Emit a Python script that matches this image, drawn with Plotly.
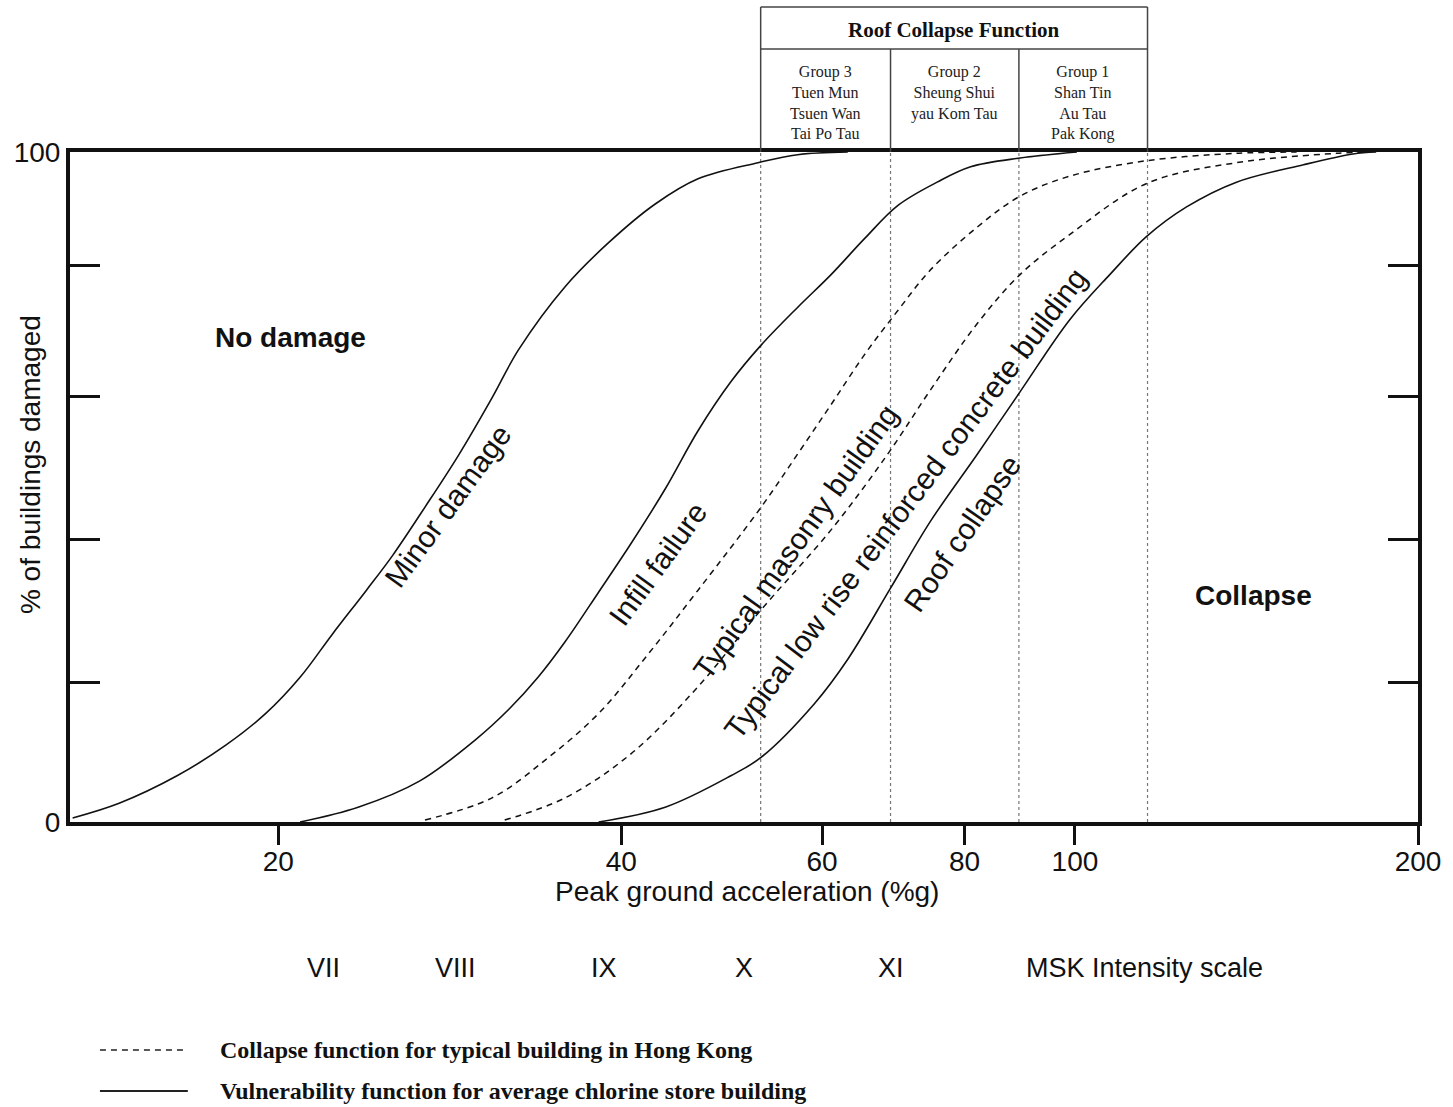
import numpy as np
import plotly.graph_objects as go

# ---------------- data ----------------
# Peak ground acceleration (%g) and % of buildings damaged
minor_pga = [13.2, 14.5, 16.3, 18.0, 19.5, 20.9, 22.3, 23.9, 25.2, 26.9, 28.8, 30.8, 32.5,
             35.7, 39.0, 42.8, 46.7, 52.7, 57.1, 63.2]
minor_pct = [0.6, 2.8, 6.9, 11.5, 16.2, 21.6, 28.0, 34.6, 39.8, 47.0, 54.8, 63.3, 70.5,
             79.9, 86.5, 92.2, 96.0, 98.4, 99.6, 100]

infill_pga = [20.9, 23.5, 26.6, 29.8, 31.9, 33.8, 35.7, 38.2, 40.8, 43.7, 46.7, 49.9, 53.0,
              57.1, 61.1, 65.4, 69.9, 75.7, 81.0, 89.5, 100.4]
infill_pct = [0, 2.2, 6.1, 12.3, 16.9, 21.6, 26.9, 34.3, 41.6, 49.7, 58.4, 65.7, 71.1,
              76.8, 81.7, 87.1, 92.0, 95.5, 97.8, 99.1, 100]

masonry_pga = [26.9, 30.8, 34.5, 38.2, 42.2, 46.7, 53.0, 57.1, 61.1, 65.4, 69.9, 74.6,
               82.1, 89.5, 99.0, 115.6, 138.6, 156.5]
masonry_pct = [0.3, 3.6, 9.6, 16.2, 25.0, 34.6, 46.9, 54.9, 62.3, 69.8, 76.3, 82.3,
               88.8, 93.4, 96.4, 98.7, 99.8, 100]

rc_pga = [31.6, 35.7, 40.8, 46.7, 53.0, 61.1, 68.5, 74.7, 82.1, 89.5, 99.0, 115.6,
          138.6, 169.6, 181.2]
rc_pct = [0.3, 3.6, 10.2, 20.2, 31.6, 43.6, 54.9, 64.5, 74.4, 81.7, 87.7, 95.3,
          98.4, 99.8, 100]

roof_pga = [38.2, 43.7, 49.9, 53.0, 59.1, 63.2, 68.9, 74.7, 82.1, 89.5, 99.0, 107.3,
            115.6, 125.3, 138.6, 158.7, 175.4, 183.8]
roof_pct = [0, 2.2, 6.9, 9.6, 17.7, 24.3, 34.9, 44.9, 54.9, 64.2, 75.0, 81.7,
            87.4, 91.8, 95.5, 98.1, 99.7, 100]

# roof collapse group boundaries (%g)
group_bounds = [53.0, 68.9, 89.3, 115.8]
group_texts = ["Group 3<br>Tuen Mun<br>Tsuen Wan<br>Tai Po Tau",
               "Group 2<br>Sheung Shui<br>yau Kom Tau",
               "Group 1<br>Shan Tin<br>Au Tau<br>Pak Kong"]

x_ticks = [20, 40, 60, 80, 100, 200]
y_ticks = [0, 20.8, 42.1, 63.5, 83.1, 100]
y_ticktext = ["0", "", "", "", "", "100"]

msk_labels = ["VII", "VIII", "IX", "X", "XI"]
msk_pga = [21.9, 28.6, 38.6, 51.2, 68.9]

# ---------------- geometry helpers (page pixels -> paper) ----------------
PL, PR, PT, PB = 70, 1420, 152, 822   # plot area on page
FW, FH = 1453, 1107


def px(x):
    return (x - PL) / (PR - PL)


def py(y):
    return (PB - y) / (PB - PT)


SANS = "Liberation Sans, Arial, sans-serif"
SERIF = "Liberation Serif, Times New Roman, serif"

fig = go.Figure()

solid = dict(color="#111", width=1.6, shape="spline", smoothing=1.0)
dashed = dict(color="#111", width=1.5, dash="6px,5px", shape="spline", smoothing=1.0)

fig.add_trace(go.Scatter(x=minor_pga, y=minor_pct, mode="lines", line=solid, name="Minor damage"))
fig.add_trace(go.Scatter(x=infill_pga, y=infill_pct, mode="lines", line=solid, name="Infill failure"))
fig.add_trace(go.Scatter(x=masonry_pga, y=masonry_pct, mode="lines", line=dashed,
                         name="Typical masonry building"))
fig.add_trace(go.Scatter(x=rc_pga, y=rc_pct, mode="lines", line=dashed,
                         name="Typical low rise reinforced concrete building"))
fig.add_trace(go.Scatter(x=roof_pga, y=roof_pct, mode="lines", line=solid, name="Roof collapse"))

shapes = []
table_top = py(7)
table_hdr = py(49)
for i, v in enumerate(group_bounds):
    # dotted line through the plot (shapes on log axes take data values)
    shapes.append(dict(type="line", xref="x", yref="paper", x0=v, x1=v, y0=0, y1=1,
                       line=dict(color="#777", width=1.2, dash="dot"), layer="below"))
    # table vertical borders
    top = table_top if i in (0, len(group_bounds) - 1) else table_hdr
    shapes.append(dict(type="line", xref="x", yref="paper", x0=v, x1=v, y0=1, y1=top,
                       line=dict(color="#444", width=1.5)))
for yy in (table_top, table_hdr):
    shapes.append(dict(type="line", xref="x", yref="paper", x0=group_bounds[0], x1=group_bounds[-1],
                       y0=yy, y1=yy, line=dict(color="#444", width=1.5)))

# legend samples
shapes.append(dict(type="line", xref="paper", yref="paper", x0=px(100), x1=px(188),
                   y0=py(1050), y1=py(1050), line=dict(color="#222", width=1.5, dash="6px,5px")))
shapes.append(dict(type="line", xref="paper", yref="paper", x0=px(100), x1=px(188),
                   y0=py(1091), y1=py(1091), line=dict(color="#222", width=1.8)))

ann = []
C = dict(xanchor="center", yanchor="middle", showarrow=False)
# table texts
ann.append(dict(x=np.log10(np.sqrt(group_bounds[0] * group_bounds[-1])), y=py(30), xref="x", yref="paper",
                text="<b>Roof Collapse Function</b>", font=dict(family=SERIF, size=21, color="#111"), **C))
for i, t in enumerate(group_texts):
    xm = np.log10(np.sqrt(group_bounds[i] * group_bounds[i + 1]))
    ann.append(dict(x=xm, y=py(61), xref="x", yref="paper", text=t, showarrow=False,
                    xanchor="center", yanchor="top", font=dict(family=SERIF, size=16, color="#222")))

# region labels
ann.append(dict(x=np.log10(20.5), y=72.3, text="<b>No damage</b>",
                font=dict(family=SANS, size=28, color="#111"), **C))
ann.append(dict(x=np.log10(143.4), y=33.8, text="<b>Collapse</b>",
                font=dict(family=SANS, size=28, color="#111"), **C))

# curve labels
curve_labels = [("Minor damage", 28.2, 47.2, -54),
                ("Infill failure", 43.0, 38.5, -54),
                ("Typical masonry building", 56.9, 41.9, -54.5),
                ("Typical low rise reinforced concrete building", 71.0, 47.6, -53),
                ("Roof collapse", 79.7, 43.0, -55.5)]
for t, xv, yv, ang in curve_labels:
    ann.append(dict(x=np.log10(xv), y=yv, text=t, textangle=ang,
                    font=dict(family=SANS, size=30, color="#111"), **C))

# axis titles
ann.append(dict(x=px(748), y=py(891), xref="paper", yref="paper", text="Peak ground acceleration (%g)",
                font=dict(family=SANS, size=28, color="#111"), **C))
ann.append(dict(x=px(30), y=py(465), xref="paper", yref="paper", text="% of buildings damaged",
                textangle=-90, font=dict(family=SANS, size=28, color="#111"), **C))

# MSK intensity row
for lab, xv in zip(msk_labels, msk_pga):
    ann.append(dict(x=np.log10(xv), y=py(968), xref="x", yref="paper", text=lab,
                    font=dict(family=SANS, size=27, color="#111"), **C))
ann.append(dict(x=px(1025), y=py(968), xref="paper", yref="paper", text="MSK Intensity scale",
                xanchor="left", yanchor="middle", showarrow=False,
                font=dict(family=SANS, size=27, color="#111")))

# legend texts
ann.append(dict(x=px(218), y=py(1050), xref="paper", yref="paper", xanchor="left", yanchor="middle",
                text="<b>Collapse function for typical building in Hong Kong</b>", showarrow=False,
                font=dict(family=SERIF, size=24, color="#111")))
ann.append(dict(x=px(218), y=py(1091), xref="paper", yref="paper", xanchor="left", yanchor="middle",
                text="<b>Vulnerability function for average chlorine store building</b>", showarrow=False,
                font=dict(family=SERIF, size=24, color="#111")))

fig.update_layout(
    width=FW, height=FH,
    margin=dict(l=PL, r=FW - PR, t=PT, b=FH - PB),
    paper_bgcolor="white", plot_bgcolor="white",
    showlegend=False,
    shapes=shapes, annotations=ann,
    xaxis=dict(type="log", range=[np.log10(13.13), np.log10(200)], tickvals=x_ticks,
               ticktext=[str(v) for v in x_ticks], ticks="outside", ticklen=19, tickwidth=3,
               tickcolor="#111", showline=True, linewidth=4, linecolor="#111", mirror=True,
               showgrid=False, zeroline=False, ticklabelstandoff=-8,
               tickfont=dict(family=SANS, size=28, color="#111")),
    yaxis=dict(range=[0, 100], tickvals=y_ticks, ticktext=y_ticktext, ticks="inside", ticklen=30,
               tickwidth=3, tickcolor="#111", showline=True, linewidth=4, linecolor="#111",
               mirror="ticks", showgrid=False, zeroline=False,
               tickfont=dict(family=SANS, size=28, color="#111")),
)

fig.write_html(
    "out.html",
    config={"displayModeBar": False},
    post_script="document.body.style.margin='0';document.body.style.overflow='hidden';"
                "document.documentElement.style.overflow='hidden';",
)
